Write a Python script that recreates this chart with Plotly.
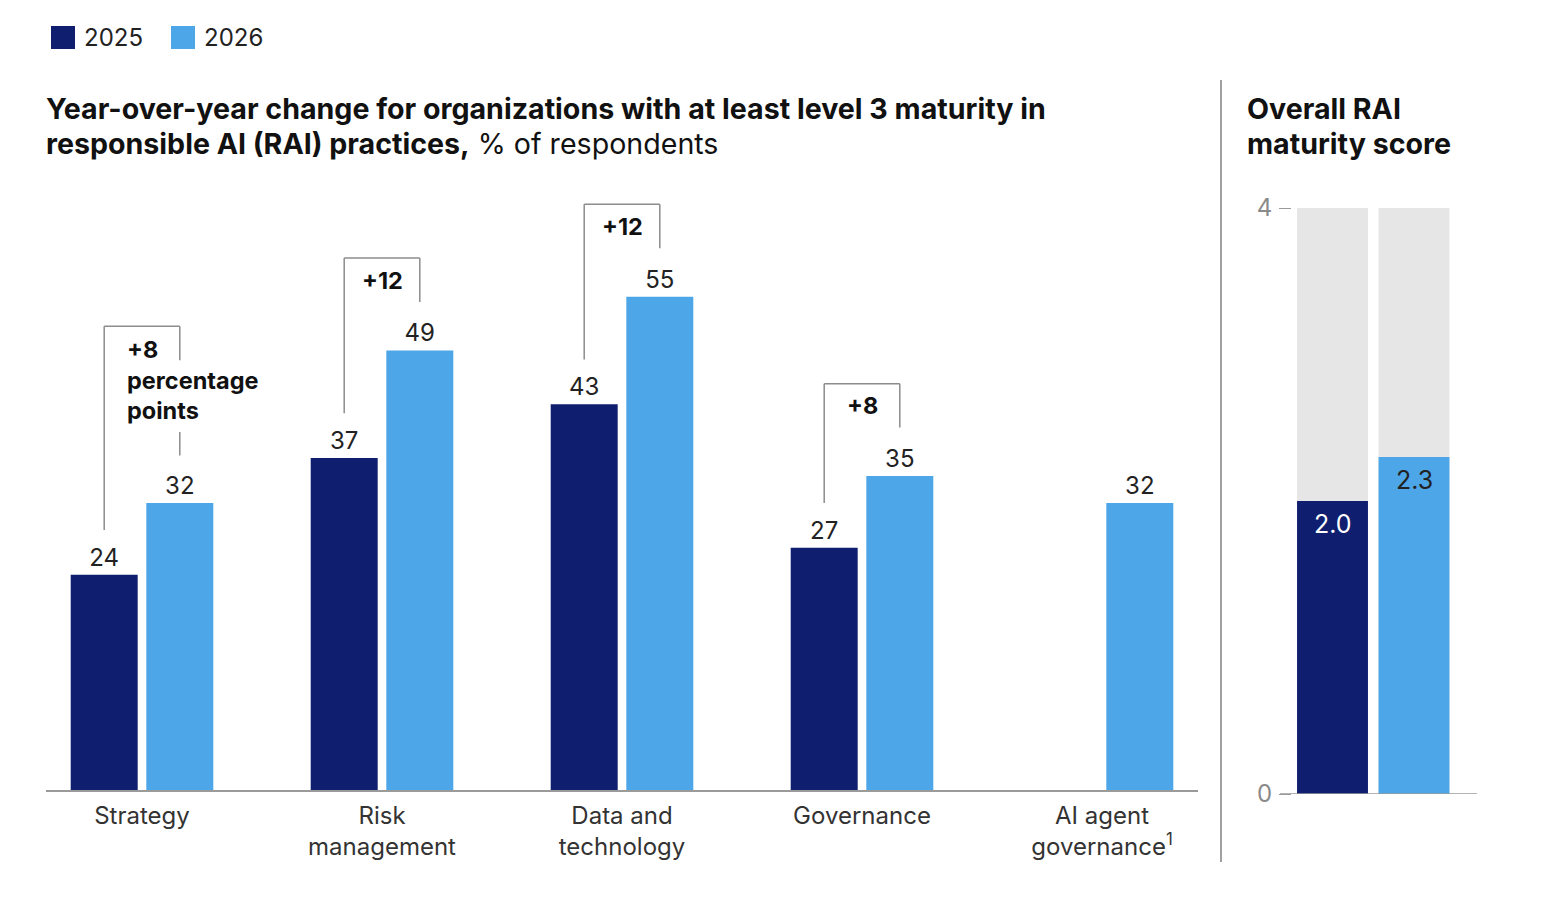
import plotly.graph_objects as go

# ── data ────────────────────────────────────────────────────────────────────
CATEGORIES = ["Strategy", "Risk<br>management", "Data and<br>technology",
              "Governance", "AI agent<br>governance<sup>1</sup>"]
VALUES_2025 = [24, 37, 43, 27, None]
VALUES_2026 = [32, 49, 55, 35, 32]

SCORE_YEARS = ["2025", "2026"]
SCORE_VALUES = [2.0, 2.3]
SCORE_MAX = 4

NAVY = "#0F1E6F"
BLUE = "#4DA6E8"
GRAY_BAR = "#E6E6E6"
LINE = "#8C8C8C"
TEXT = "#222222"
FONT = "Inter, Arial, sans-serif"

W, H = 1566, 898
OFF = 8                                   # page body margin
px = lambda v: (v - OFF) / W              # pixel -> paper x
py = lambda v: 1 - (v - OFF) / H          # pixel -> paper y

BARGAP, GROUPGAP = 0.37, 0.114
HALF = (1 - BARGAP) / 4       # offset of each bar centre from the category centre

fig = go.Figure()
xs = list(range(len(CATEGORIES)))

fig.add_trace(go.Bar(x=xs, y=VALUES_2025, name="2025", marker_color=NAVY,
                     text=VALUES_2025, textposition="outside", cliponaxis=False,
                     textfont=dict(size=24, color=TEXT, family=FONT)))
fig.add_trace(go.Bar(x=xs, y=VALUES_2026, name="2026", marker_color=BLUE,
                     text=VALUES_2026, textposition="outside", cliponaxis=False,
                     textfont=dict(size=24, color=TEXT, family=FONT)))

# right panel: grey track up to max score, coloured score bars over it
fig.add_trace(go.Bar(x=[0, 1], y=[SCORE_MAX] * 2, marker_color=GRAY_BAR,
                     width=0.87, offset=-0.435, xaxis="x2", yaxis="y2",
                     hoverinfo="skip"))
fig.add_trace(go.Bar(x=[0, 1], y=SCORE_VALUES, marker_color=[NAVY, BLUE],
                     width=0.87, offset=-0.435, xaxis="x2", yaxis="y2"))

annos = []
for i, v in enumerate(SCORE_VALUES):
    annos.append(dict(x=i, y=v, xref="x2", yref="y2", text=f"{v:.1f}",
                      showarrow=False, yanchor="middle", yshift=-23,
                      font=dict(size=25, family=FONT,
                                color="white" if i == 0 else TEXT)))

# ── change brackets ─────────────────────────────────────────────────────────
shapes = []
seg = dict(type="line", xref="x", yref="y", line=dict(color=LINE, width=1.5))
for i, (a, b) in enumerate(zip(VALUES_2025, VALUES_2026)):
    if a is None:
        continue
    xl, xr = i - HALF, i + HALF
    diff = b - a
    if i == 0:
        top = b + 19.7
        shapes.append(dict(seg, x0=xl, x1=xl, y0=a + 5, y1=top))
        shapes.append(dict(seg, x0=xl, x1=xr, y0=top, y1=top))
        shapes.append(dict(seg, x0=xr, x1=xr, y0=top, y1=top - 3.8))
        shapes.append(dict(seg, x0=xr, x1=xr, y0=b + 7.9, y1=b + 5.3))
        annos.append(dict(x=xl, y=top, xref="x", yref="y", xanchor="left",
                          yanchor="middle", xshift=21, yshift=-54, align="left",
                          text=f"<b>+{diff}<br>percentage<br>points</b>",
                          showarrow=False, font=dict(size=23.5, color="#111", family=FONT)))
    else:
        top = b + 10.3
        shapes.append(dict(seg, x0=xl, x1=xl, y0=a + 5, y1=top))
        shapes.append(dict(seg, x0=xl, x1=xr, y0=top, y1=top))
        shapes.append(dict(seg, x0=xr, x1=xr, y0=top, y1=b + 5.4))
        annos.append(dict(x=i, y=top, xref="x", yref="y", yanchor="middle",
                          yshift=-22, text=f"<b>+{diff}</b>", showarrow=False,
                          font=dict(size=23.5, color="#111", family=FONT)))

# separator between panels
shapes.append(dict(type="line", xref="paper", yref="paper", x0=px(1221), x1=px(1221),
                   y0=py(80), y1=py(862), line=dict(color="#A0A0A0", width=2)))
# baseline of the score panel, running under the tick marks
shapes.append(dict(type="line", xref="paper", yref="y2", x0=px(1280), x1=px(1477),
                   y0=0, y1=0, line=dict(color="#9A9A9A", width=1.5)))

# legend swatches
for x0, col, lab in [(51, NAVY, "2025"), (171, BLUE, "2026")]:
    shapes.append(dict(type="rect", xref="paper", yref="paper", x0=px(x0), x1=px(x0 + 24),
                       y0=py(49), y1=py(26), fillcolor=col, line=dict(width=0)))
    annos.append(dict(x=px(x0 + 31), y=py(38), xref="paper", yref="paper",
                      xanchor="left", yanchor="middle", text=lab, showarrow=False,
                      font=dict(size=24, color=TEXT, family=FONT)))

# titles
title_font = dict(size=28.6, color="#111", family=FONT)
titles = [
    dict(x=px(44), y=py(108), text="<b>Year-over-year change for organizations with at least level 3 maturity in</b>"),
    dict(x=px(44), y=py(144), text="<b>responsible AI (RAI) practices,</b> % of respondents"),
    dict(x=px(1245), y=py(108), text="<b>Overall RAI</b>"),
    dict(x=px(1245), y=py(144), text="<b>maturity score</b>"),
]
for a in titles:
    a.update(xref="paper", yref="paper", xanchor="left", yanchor="middle",
             showarrow=False, font=title_font)
annos += titles

fig.update_layout(
    template="none",
    width=W, height=H, margin=dict(l=0, r=0, t=0, b=0, autoexpand=False),
    paper_bgcolor="white", plot_bgcolor="white",
    barmode="group", bargap=BARGAP, bargroupgap=GROUPGAP,
    showlegend=False, font=dict(family=FONT, color=TEXT),
    shapes=shapes, annotations=annos,
    xaxis=dict(domain=[px(46), px(1198)], range=[-0.4, 4.4], automargin=False,
               tickvals=xs, ticktext=CATEGORIES, showgrid=False, zeroline=False,
               showline=True, linecolor="#9A9A9A", linewidth=1.5, ticks="",
               ticklabelstandoff=3,
               tickfont=dict(size=24, color="#333", family=FONT), fixedrange=True),
    yaxis=dict(domain=[py(790), py(198)], range=[0, 66], visible=False,
               automargin=False, fixedrange=True),
    xaxis2=dict(domain=[px(1292), px(1477)], range=[-0.497, 1.773], anchor="y2",
                automargin=False, showticklabels=False, showgrid=False,
                zeroline=False, showline=False, ticks=""),
    yaxis2=dict(domain=[py(794), py(208)], range=[0, SCORE_MAX], anchor="x2",
                automargin=False, tickvals=[0, SCORE_MAX], ticks="outside",
                ticklen=12, tickwidth=1.2, tickcolor="#9A9A9A", showgrid=False,
                zeroline=False, showline=False, ticklabelstandoff=2,
                tickfont=dict(size=24, color="#8A8A8A", family=FONT)),
)

fig.write_html("out.html")
